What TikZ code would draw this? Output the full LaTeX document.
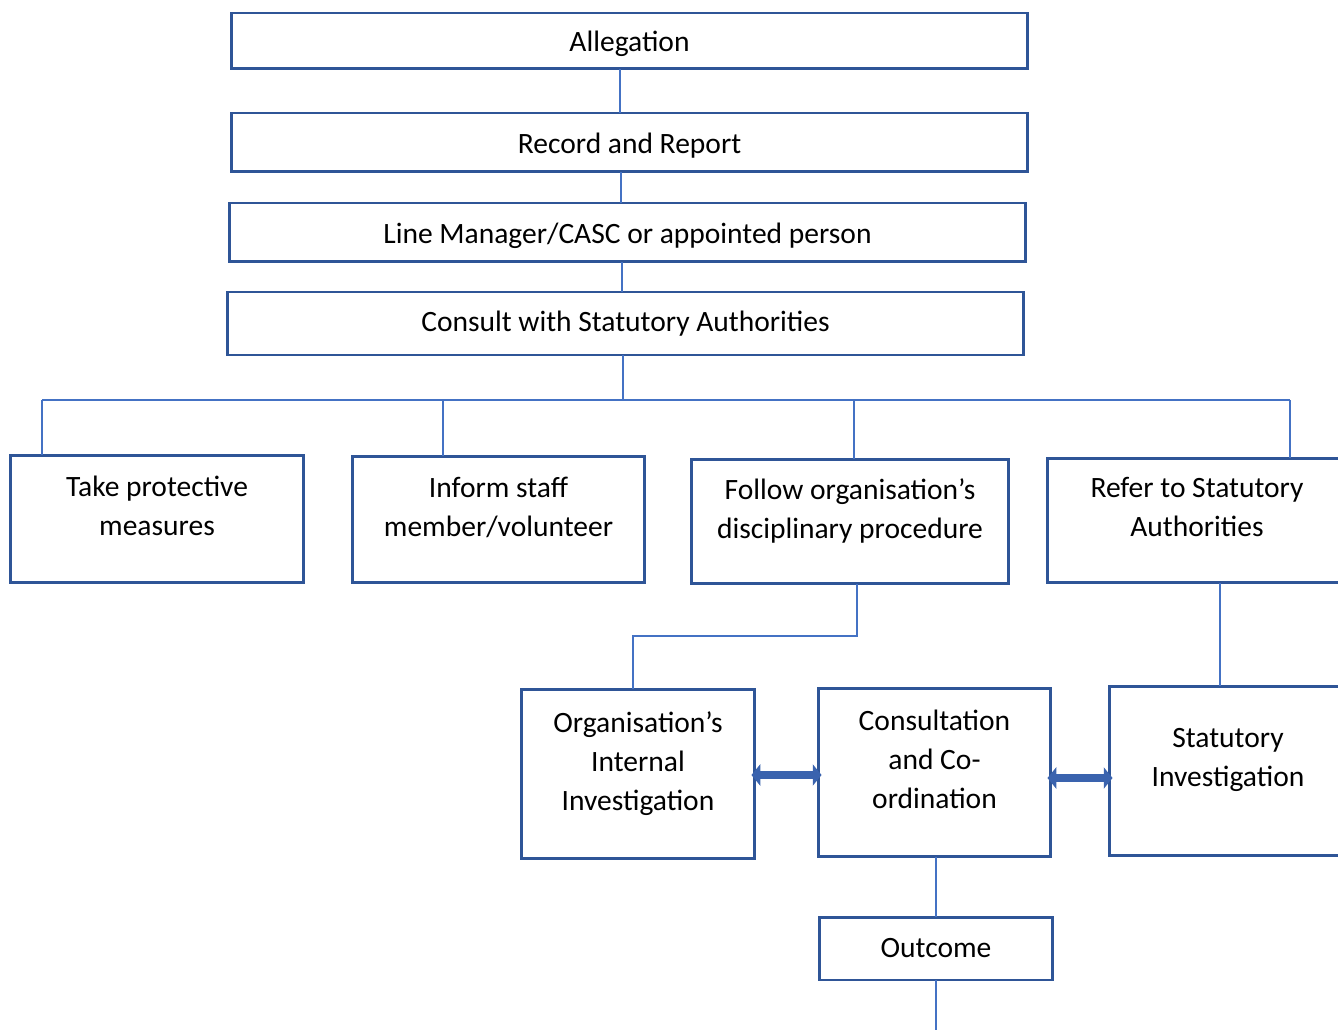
\documentclass[tikz,border=0pt]{standalone}
\usepackage{fontspec}
\setmainfont{Carlito}
\usepackage{tikz}
\usetikzlibrary{positioning}
\usetikzlibrary{arrows.meta}
\definecolor{boxblue}{HTML}{2F5597}
\definecolor{linkblue}{HTML}{4472C4}
\definecolor{arrowblue}{HTML}{3A63AE}

\begin{document}
\begin{tikzpicture}[x=0.02cm,y=-0.02cm,
flow box/.style={draw=boxblue,line width=1.7pt,fill=white,align=center,
                 inner sep=0,outer sep=0,font=\fontsize{16.8}{22.2}\selectfont},
top text/.style={text depth=15pt},
low text/.style={text height=16pt,text depth=4pt},
link/.style={draw=linkblue,line width=0.8pt},
both arrow/.style={draw=arrowblue,line width=5pt,
                 {Triangle[width=12pt,length=5pt]}-{Triangle[width=12pt,length=5pt]},
                 shorten <=-2pt,shorten >=-2pt}]
\useasboundingbox (0,0) rectangle (1338,1030);
\node[flow box,low text,minimum width=15.94cm,minimum height=1.12cm] (alleg) at (629.5,41) {Allegation};
\node[flow box,low text,minimum width=15.94cm,minimum height=1.18cm] (record) at (629.5,142.5) {Record and Report};
\node[flow box,low text,minimum width=15.94cm,minimum height=1.18cm] (linemgr) at (627.5,232.5) {Line Manager/CASC or appointed person};
\node[flow box,minimum width=15.94cm,minimum height=1.26cm] (consult) at (625.5,323.5) {Consult with Statutory Authorities};
%==================
\node[flow box,top text,minimum width=5.88cm,minimum height=2.56cm] (protect) at (157,519) {Take protective\\measures};
\node[flow box,top text,minimum width=5.86cm,minimum height=2.54cm] (inform) at (498.5,519.5) {Inform staff\\member/volunteer};
\node[flow box,top text,minimum width=6.36cm,minimum height=2.5cm] (follow) at (850,521.5) {Follow organisation’s\\disciplinary procedure};
\node[flow box,top text,minimum width=6.0cm,minimum height=2.5cm] (refer) at (1197,520.5) {Refer to Statutory\\Authorities};
%==================
\node[flow box,top text,minimum width=4.68cm,minimum height=3.4cm] (internal) at (638,774) {Organisation’s\\Internal\\Investigation};
\node[flow box,top text,minimum width=4.66cm,minimum height=3.38cm] (coord) at (934.5,772.5) {Consultation\\and Co-\\ordination};
\node[flow box,top text,minimum width=4.76cm,minimum height=3.4cm] (statinv) at (1228,771) {Statutory\\Investigation};
\node[flow box,minimum width=4.68cm,minimum height=1.26cm] (outcome) at (936,948.5) {Outcome};
% ===================
\coordinate (t1) at (620,0);
\coordinate (t2) at (621,0);
\coordinate (t3) at (622,0);
\coordinate (bus) at (623,400);
\coordinate (d1) at (42,400);
\coordinate (d2) at (443,400);
\coordinate (d3) at (854,400);
\coordinate (d4) at (1290,400);
\coordinate (f1) at (857,636);
\coordinate (f2) at (633,636);
\coordinate (r1) at (1220,636);
\coordinate (end) at (936,1030);
\draw[link] (t1 |- alleg.south) -- (t1 |- record.north);
\draw[link] (t2 |- record.south) -- (t2 |- linemgr.north);
\draw[link] (t3 |- linemgr.south) -- (t3 |- consult.north);
\draw[link] (consult.south -| bus) -- (bus);
\draw[link] (d1) -- (d4);
\foreach \x/\b in {1/protect,2/inform,3/follow,4/refer}{
\draw[link] (d\x) -- (d\x |- \b.north);
}
\draw[link] (f1 |- follow.south) -- (f1) -- (f2) -- (f2 |- internal.north);
\draw[link] (r1 |- refer.south) -- (r1 |- statinv.north);
\draw[link] (coord.south -| outcome.north) -- (outcome.north);
\draw[link] (outcome.south) -- (end);
% ===================
\draw[both arrow] (internal.east |- 0,775) -- (coord.west |- 0,775);
\draw[both arrow] (coord.east |- 0,778) -- (statinv.west |- 0,778);
\end{tikzpicture}
\end{document}
